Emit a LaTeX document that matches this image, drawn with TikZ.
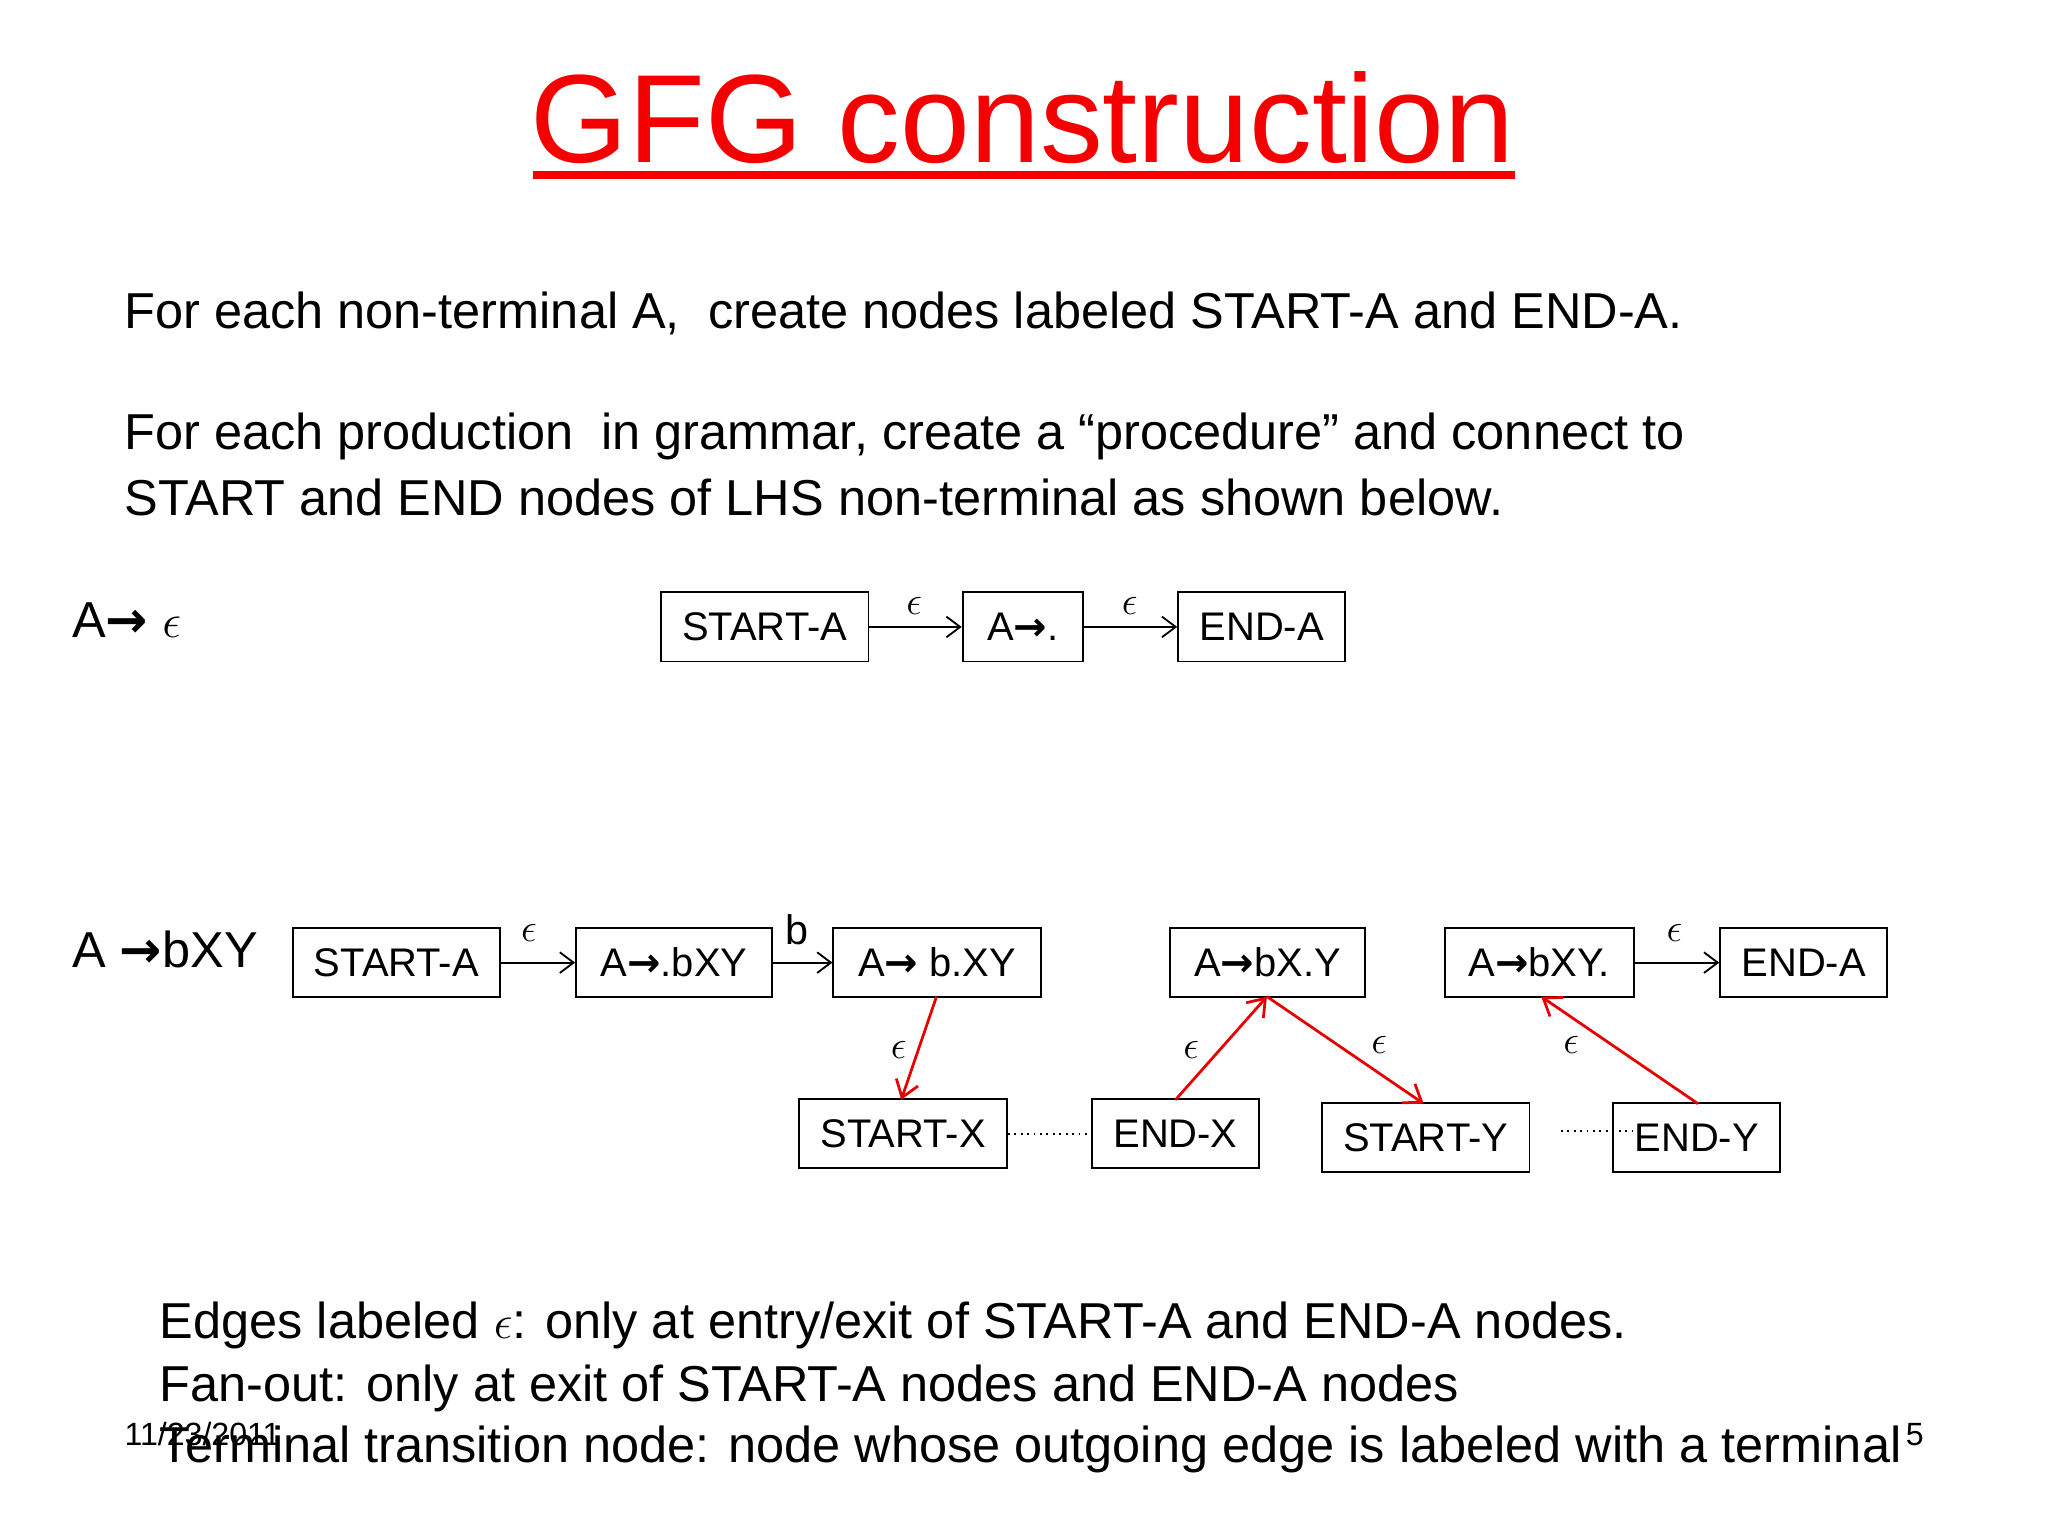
\documentclass[tikz,border=0pt]{standalone}
\usepackage{fontspec}
\setmainfont{Liberation Sans}
\newfontfamily\arrfont{DejaVu Sans}
\newcommand{\ar}{{\arrfont\bfseries →}}
\usetikzlibrary{arrows.meta}
\begin{document}
\begin{tikzpicture}[x=0.02cm,y=-0.02cm,
  box/.style={draw,thick,minimum height=1.06cm,inner sep=0pt,font=\fontsize{17.4}{19}\selectfont},
  txt/.style={anchor=west,inner sep=0pt,font=\fontsize{22}{26}\selectfont},
  lab/.style={inner sep=0pt,font=\fontsize{18}{20}\selectfont},
  bar/.style={-{Straight Barb[length=6pt,width=9pt]},thick},
  red/.style={-{Straight Barb[length=7pt,width=10pt]},draw={rgb,255:red,230;green,0;blue,0},very thick}]
\useasboundingbox (0,0) rectangle (1568,1176);
\definecolor{tred}{RGB}{245,0,0}
\node[text=tred,font=\fontsize{54.7}{60}\selectfont,inner sep=0pt] (title) at (783,90) {GFG construction};
\fill[tred] (408,131) rectangle (1160,137);
\node[txt] (t1) at (95,240) {For each non-terminal A,\ \ create nodes labeled START-A and END-A.};
\node[txt] (t2) at (95,334) {For each production\ \ in grammar, create a “procedure” and connect to};
\node[txt] (t3) at (95,381) {START and END nodes of LHS non-terminal as shown below.};
\node[txt] (l1) at (55,475) {A\ar{} $\epsilon$};
\node[txt] (l2) at (55,727) {A \ar{}bXY};
% top row
\node[box,minimum width=3.18cm] (sa) at (585.5,480) {START-A};
\node[box,minimum width=1.84cm] (ad) at (783,480) {A\ar.};
\node[box,minimum width=2.56cm] (ea) at (966,480) {END-A};
\draw[bar] (sa) -- (ad); \draw[bar] (ad) -- (ea);
\node[lab] (e1) at (700,464) {$\epsilon$};
\node[lab] (e2) at (865,464) {$\epsilon$};
% bottom row
\node[box,minimum width=3.18cm] (sa2) at (303.5,737) {START-A};
\node[box,minimum width=3.0cm] (p1) at (516,737) {A\ar.bXY};
\node[box,minimum width=3.18cm] (p2) at (717.5,737) {A\ar{} b.XY};
\node[box,minimum width=2.98cm] (p3) at (970.5,737) {A\ar bX.Y};
\node[box,minimum width=2.9cm] (p4) at (1178.5,737) {A\ar bXY.};
\node[box,minimum width=2.56cm] (ea2) at (1381,737) {END-A};
\node[box,minimum width=3.18cm] (sx) at (691.5,868) {START-X};
\node[box,minimum width=2.56cm] (ex) at (900,868) {END-X};
\node[box,minimum width=3.18cm] (sy) at (1091.5,871) {START-Y};
\node[box,minimum width=2.56cm] (ey) at (1299,871) {END-Y};
\draw[bar] (sa2) -- (p1); \draw[bar] (p1) -- (p2); \draw[bar] (p4) -- (ea2);
\draw[red] (717,763) -- (690,842);
\draw[red] (900,842) -- (970,763);
\draw[red] (970,763) -- (1090,845);
\draw[red] (1300,845) -- (1180,763);
\draw[dotted,thick] (sx.east) -- (ex.west);
\coordinate (dy) at (1195,866);
\draw[dotted,thick] (dy) -- (1255,866);
\node[lab] (e3) at (405,714) {$\epsilon$};
\node[lab] (b1) at (610,712) {b};
\node[lab] (e4) at (1282,714) {$\epsilon$};
\node[lab] (e5) at (688,804) {$\epsilon$};
\node[lab] (e6) at (912,804) {$\epsilon$};
\node[lab] (e7) at (1056,800) {$\epsilon$};
\node[lab] (e8) at (1203,800) {$\epsilon$};
% bottom text
\node[txt] (b1t) at (122,1015) {Edges labeled $\epsilon$: only at entry/exit of START-A and END-A nodes.};
\node[txt] (b2t) at (122,1063) {Fan-out: only at exit of START-A nodes and END-A nodes};
\node[txt] (b3t) at (122,1110) {Terminal transition node: node whose outgoing edge is labeled with a terminal};
\node[txt,font=\fontsize{14}{16}\selectfont] (date) at (95,1098) {11/23/2011};
\node[lab,font=\fontsize{14}{16}\selectfont] (pg) at (1466,1098) {5};
\end{tikzpicture}
\end{document}
